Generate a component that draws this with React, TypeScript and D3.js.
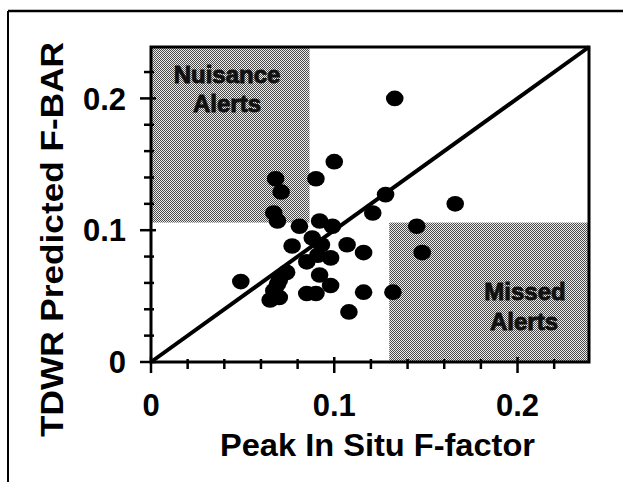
import React from "react";
import * as d3 from "d3";

const insituX = [0.133,0.100,0.068,0.090,0.071,0.128,0.166,0.121,0.067,0.069,0.081,0.092,0.099,0.145,0.088,0.107,0.077,0.093,0.116,0.148,0.098,0.091,0.085,0.074,0.049,0.070,0.092,0.098,0.069,0.067,0.085,0.090,0.116,0.132,0.065,0.070,0.108];
const tdwrY = [0.200,0.152,0.139,0.139,0.129,0.127,0.120,0.113,0.113,0.107,0.103,0.107,0.103,0.103,0.094,0.089,0.088,0.089,0.083,0.083,0.079,0.081,0.076,0.068,0.061,0.062,0.066,0.058,0.059,0.054,0.052,0.052,0.053,0.053,0.047,0.049,0.038];
const tickLabels = ["0", "0.1", "0.2"];
const tickValues = [0, 0.1, 0.2];
const nuisanceRegion = { x0: 0, x1: 0.0865, y0: 0.1058, y1: 0.239 };
const missedRegion = { x0: 0.130, x1: 0.239, y0: 0, y1: 0.1058 };
const xTitle = "Peak In Situ F-factor";
const yTitle = "TDWR Predicted F-BAR";

export default function App() {
  const x = d3.scaleLinear().domain([0, 0.239]).range([151, 589]);
  const y = d3.scaleLinear().domain([0, 0.239]).range([362, 47]);
  const minor = d3.range(0, 0.2399, 0.02);
  const font = "'Liberation Sans', Arial, sans-serif";
  const isMajor = (v: number) => Math.abs(v * 10 - Math.round(v * 10)) < 1e-6;
  const diag = d3.line<number>().x((d) => x(d)).y((d) => y(d));
  return (
    <svg width={623} height={482} style={{ position: "absolute", left: 0, top: 0, background: "#fff" }}>
      <defs>
        <pattern id="dither" width={2} height={2} patternUnits="userSpaceOnUse">
          <rect width={2} height={2} fill="#ececec" />
          <rect x={0} y={0} width={1} height={1} fill="#4a4a4a" />
          <rect x={1} y={1} width={1} height={1} fill="#4a4a4a" />
        </pattern>
      </defs>
      {/* outer frame */}
      <line x1={8} y1={11} x2={623} y2={11} stroke="#000" strokeWidth={2.5} />
      <line x1={8} y1={11} x2={8} y2={482} stroke="#000" strokeWidth={2} />

      {[nuisanceRegion, missedRegion].map((r, i) => (
        <rect key={i} x={x(r.x0)} y={y(r.y1)} width={x(r.x1) - x(r.x0)} height={y(r.y0) - y(r.y1)} fill="url(#dither)" />
      ))}

      <g fontFamily={font} fontWeight="bold" fontSize={24} fill="#111" stroke="#111" strokeWidth={0.9} textAnchor="middle">
        <text x={227} y={83}>Nuisance</text>
        <text x={227} y={112}>Alerts</text>
        <text x={525} y={300}>Missed</text>
        <text x={524} y={330}>Alerts</text>
      </g>

      <path d={diag([0, 0.239]) || ""} stroke="#000" strokeWidth={4} fill="none" />

      {insituX.map((v, i) => (
        <ellipse key={i} cx={x(v)} cy={y(tdwrY[i])} rx={8.8} ry={7.8} fill="#000" />
      ))}

      {/* plot box */}
      <rect x={x(0)} y={y(0.239)} width={x(0.239) - x(0)} height={y(0) - y(0.239)} fill="none" stroke="#000" strokeWidth={3} />

      {/* ticks */}
      {minor.map((v, i) => (
        <line key={"xt" + i} x1={x(v)} x2={x(v)} y1={y(0) - (isMajor(v) ? 5 : 3)} y2={y(0) + (isMajor(v) ? 11 : 7)} stroke="#000" strokeWidth={2.5} />
      ))}
      {minor.map((v, i) => (
        <line key={"yt" + i} y1={y(v)} y2={y(v)} x1={x(0) - (isMajor(v) ? 11 : 7)} x2={x(0) + (isMajor(v) ? 5 : 3)} stroke="#000" strokeWidth={2.5} />
      ))}

      <g fontFamily={font} fontWeight="bold" fontSize={31} fill="#000">
        {tickValues.map((v, i) => (
          <text key={"xl" + i} x={x(v)} y={416} textAnchor="middle">{tickLabels[i]}</text>
        ))}
        {tickValues.map((v, i) => (
          <text key={"yl" + i} x={126} y={y(v)} dy="0.36em" textAnchor="end">{tickLabels[i]}</text>
        ))}
      </g>

      <g fontFamily={font} fontWeight="bold" fontSize={32} fill="#000">
        <text x={220} y={456} textLength={315} lengthAdjust="spacingAndGlyphs">{xTitle}</text>
        <text transform="translate(63,437) rotate(-90)" textLength={395} lengthAdjust="spacingAndGlyphs">{yTitle}</text>
      </g>
    </svg>
  );
}
